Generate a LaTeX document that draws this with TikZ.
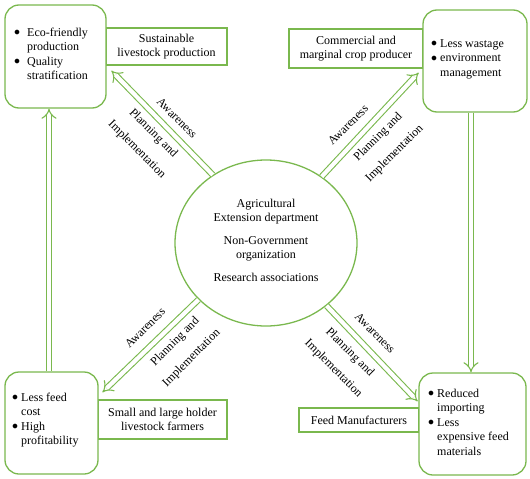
\documentclass[tikz,border=0pt]{standalone}
\usepackage{fontspec}
\setmainfont{Liberation Serif}
\usetikzlibrary{shapes.geometric,arrows.meta,calc}
\definecolor{lg}{RGB}{122,184,78}
\newcommand{\bl}{\raisebox{0.5pt}{$\bullet$}}
\begin{document}
\begin{tikzpicture}[x=1pt,y=-1pt,
  every node/.style={font=\fontsize{12}{14.5}\selectfont},
  rbox/.style={draw=lg,line width=1.3pt,rounded corners=14pt,inner sep=0pt,fill=white},
  sbox/.style={draw=lg,line width=1.3pt,inner sep=0pt,align=center},
  lst/.style={anchor=base west,inner sep=0pt,align=left},
  dbl/.style={draw=lg,double=white,line width=1.1pt,double distance=4.2pt,-{Implies[length=4pt]}},
  lab/.style={inner sep=0pt,align=center}]
\useasboundingbox (0,0) rectangle (530,479);
% side boxes
\node[sbox,minimum width=121,minimum height=37] (sus) at (166.5,46.5) {Sustainable\\livestock production};
\node[sbox,minimum width=134,minimum height=39] (com) at (356,48.5) {Commercial and\\marginal crop producer};
\node[sbox,minimum width=129,minimum height=39] (sml) at (162.5,419.5) {Small and large holder\\livestock farmers};
\node[sbox,minimum width=120,minimum height=24] (feed) at (359,420) {Feed Manufacturers};
% rounded boxes
\node[rbox,minimum width=101,minimum height=103] (tl) at (55.5,56.5) {};
\node[rbox,minimum width=104,minimum height=102] (tr) at (475,61) {};
\node[rbox,minimum width=93,minimum height=102] (bl) at (51.5,423) {};
\node[rbox,minimum width=107,minimum height=102] (br) at (472.5,424) {};
\node[lst] (tlt) at (14,36) {\begin{tabular}[t]{@{}l@{\hspace{7pt}}l@{}}\bl & Eco-friendly\\ & production\\ \bl & Quality\\ & stratification\end{tabular}};
\node[lst] (trt) at (431,47) {\begin{tabular}[t]{@{}l@{\hspace{3pt}}l@{}}\bl & Less wastage\\ \bl & environment\\ & management\end{tabular}};
\node[lst] (blt) at (12,401) {\begin{tabular}[t]{@{}l@{\hspace{3pt}}l@{}}\bl & Less feed\\ & cost\\ \bl & High\\ & profitability\end{tabular}};
\node[lst] (brt) at (428,397) {\begin{tabular}[t]{@{}l@{\hspace{3pt}}l@{}}\bl & Reduced\\ & importing\\ \bl & Less\\ & expensive feed\\ & materials\end{tabular}};
% center
\node[ellipse,draw=lg,line width=1.3pt,minimum width=182,minimum height=166,inner sep=0pt] (c) at (266,243) {};
\node[inner sep=0pt,align=center] (ct) at (266,240)
  {Agricultural\\Extension department\\[8pt]Non-Government\\organization\\[8pt]Research associations};
% arrow end coordinates
\coordinate (h1) at ($(sus.south west)+(6,5)$);
\coordinate (h2) at ($(com.south east)+(-5,4)$);
\coordinate (h3) at ($(sml.north west)+(5,-7)$);
\coordinate (h4) at ($(feed.north east)+(-2,-6)$);
\draw[dbl] (c.128) -- (h1);
\draw[dbl] (c.50) -- (h2);
\draw[dbl] (c.-140) -- (h3);
\draw[dbl] (c.-46) -- (h4);
\draw[dbl] ($(bl.north)+(-2.5,0)$) -- ($(bl.north |- tl.south)+(-2.5,0)$);
\draw[dbl] ($(tr.south -| br.north)+(-1.5,0)$) -- ($(br.north)+(-1.5,0)$);
% labels
\node[lab,rotate=-45] (a1) at (177,118) {Awareness};
\node[lab,rotate=-45] (p1) at (145,141.5) {Planning and\\[8.5pt]Implementation};
\node[lab,rotate=45] (a2) at (348,125) {Awareness};
\node[lab,rotate=45] (p2) at (386.5,145.5) {Planning and\\[8.5pt]Implementation};
\node[lab,rotate=45] (a3) at (145,328) {Awareness};
\node[lab,rotate=45] (p3) at (183.5,350) {Planning and\\[8.5pt]Implementation};
\node[lab,rotate=-45] (a4) at (375,333) {Awareness};
\node[lab,rotate=-45] (p4) at (341.5,360.5) {Planning and\\[8.5pt]Implementation};
\end{tikzpicture}
\end{document}
